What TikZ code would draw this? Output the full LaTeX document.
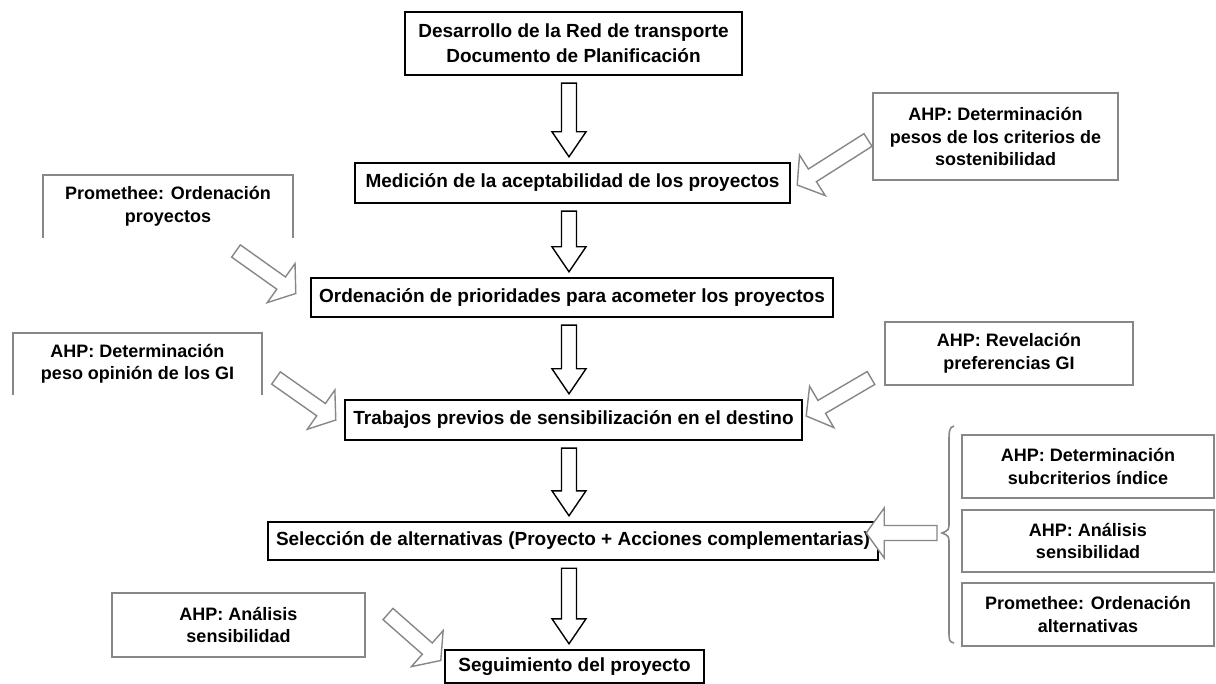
\documentclass[tikz,border=0pt]{standalone}
\usepackage{fontspec}
\setmainfont{Liberation Sans}
\usetikzlibrary{calc}
\definecolor{bgray}{RGB}{135,135,135}
\newcommand{\blockarrow}[6]{%
  \path ($(#3)!#6!(#2)$) coordinate (ba-h);
  \draw[#1] ($(#2)!#4!90:(#3)$) -- ($(ba-h)!#4!90:(#3)$) -- ($(ba-h)!#5!90:(#3)$) -- (#3)
    -- ($(ba-h)!#5!-90:(#3)$) -- ($(ba-h)!#4!-90:(#3)$) -- ($(#2)!#4!-90:(#3)$) -- cycle;
}
\begin{document}
\begin{tikzpicture}[x=1pt,y=-1pt,
  mainbox/.style={draw=black, line width=2.4pt, fill=white, inner sep=0pt, align=center,
    font=\bfseries\fontsize{19}{25}\selectfont},
  graybox/.style={draw=bgray, line width=2pt, fill=white, inner sep=0pt, align=center,
    font=\bfseries\fontsize{18}{22.5}\selectfont},
  graytext/.style={inner sep=0pt, align=center, font=\bfseries\fontsize{18}{22.5}\selectfont},
  grayedge/.style={draw=bgray, line width=2pt},
  mainarrow/.style={draw=black, line width=1.4pt, fill=white, line join=miter},
  grayarrow/.style={draw=bgray, line width=1.4pt, fill=white, line join=miter},
  bracestyle/.style={draw=bgray, line width=1.6pt}
]
\useasboundingbox (0,0) rectangle (1216,684);

% main column
\node[mainbox, minimum width=337pt, minimum height=63pt] (n1) at (573.5,43.5)
  {Desarrollo de la Red de transporte\\Documento de Planificación};
\node[mainbox, minimum width=435pt, minimum height=40pt] (n2) at (572.5,183)
  {Medición de la aceptabilidad de los proyectos};
\node[mainbox, minimum width=522pt, minimum height=39pt] (n3) at (572,297.5)
  {Ordenación de prioridades para acometer los proyectos};
\node[mainbox, minimum width=457pt, minimum height=40pt] (n4) at (573.5,420)
  {Trabajos previos de sensibilización en el destino};
\node[mainbox, minimum width=610pt, minimum height=38pt] (n5) at (573,541)
  {Selección de alternativas (Proyecto + Acciones complementarias)};
\node[mainbox, minimum width=259pt, minimum height=33pt] (n6) at (574.5,666.5)
  {Seguimiento del proyecto};

% main arrows
\coordinate (a1s) at ($(n1.south)+(-4.5,7)$);  \coordinate (a1e) at ($(n2.north)+(-3.5,-5)$);
\coordinate (a2s) at ($(n2.south)+(-3.5,7)$);  \coordinate (a2e) at ($(n3.north)+(-3,-5)$);
\coordinate (a3s) at ($(n3.south)+(-3,7)$);    \coordinate (a3e) at ($(n4.north)+(-4.5,-5)$);
\coordinate (a4s) at ($(n4.south)+(-4.5,7)$);  \coordinate (a4e) at ($(n5.north)+(-4,-5)$);
\coordinate (a5s) at ($(n5.south)+(-4,7)$);    \coordinate (a5e) at ($(n6.north)+(-5.5,-5)$);
\blockarrow{mainarrow}{a1s}{a1e}{7.5pt}{17pt}{25pt}
\blockarrow{mainarrow}{a2s}{a2e}{7.5pt}{17pt}{25pt}
\blockarrow{mainarrow}{a3s}{a3e}{7.5pt}{17pt}{25pt}
\blockarrow{mainarrow}{a4s}{a4e}{7.5pt}{17pt}{25pt}
\blockarrow{mainarrow}{a5s}{a5e}{7.5pt}{17pt}{25pt}

% side boxes
\node[graybox, minimum width=245pt, minimum height=87pt] (g1) at (995.5,136.5)
  {AHP: Determinación\\pesos de los criterios de\\sostenibilidad};
\node[graytext, minimum width=250pt, minimum height=63pt] (g2) at (168,206.5)
  {Promethee: Ordenación\\proyectos};
\draw[grayedge] (g2.south west) -- (g2.north west) -- (g2.north east) -- (g2.south east);
\node[graytext, minimum width=249pt, minimum height=62pt] (g3) at (137.5,364)
  {AHP: Determinación\\peso opinión de los GI};
\draw[grayedge] (g3.south west) -- (g3.north west) -- (g3.north east) -- (g3.south east);
\node[graybox, minimum width=248pt, minimum height=63pt] (g4) at (1009,353.5)
  {AHP: Revelación\\preferencias GI};
\node[graybox, minimum width=252pt, minimum height=63pt] (g5) at (1088,466.5)
  {AHP: Determinación\\subcriterios índice};
\node[graybox, minimum width=252pt, minimum height=62pt] (g6) at (1088,541)
  {AHP: Análisis\\sensibilidad};
\node[graybox, minimum width=252pt, minimum height=63pt] (g7) at (1088,614.5)
  {Promethee: Ordenación\\alternativas};
\node[graybox, minimum width=253pt, minimum height=64pt] (g8) at (238.5,625)
  {AHP: Análisis\\sensibilidad};

% brace
\coordinate (br) at (942,533);
\draw[bracestyle] ($(g5.north west)+(-7,-8)$) .. controls (949,427) and (949,432) .. (949,442)
  -- (949,522) .. controls (949,530) .. (br) .. controls (949,536) .. (949,544)
  -- (949,630) .. controls (949,640) and (949,642) .. ($(g7.south west)+(-7,-4)$);

% gray arrows
\coordinate (b1s) at (868,140);  \coordinate (b1e) at ($(n2.east)+(6,2)$);
\coordinate (b2s) at (236,251);  \coordinate (b2e) at ($(n3.west)+(-14,-4)$);
\coordinate (b3s) at (276,378);  \coordinate (b3e) at ($(n4.west)+(-8,0)$);
\coordinate (b4s) at (871,378);  \coordinate (b4e) at ($(n4.east)+(3,-4)$);
\coordinate (b5s) at ($(br)+(-5,0)$);  \coordinate (b5e) at ($(n5.east)+(-13,-8)$);
\coordinate (b6s) at (388,614);  \coordinate (b6e) at ($(n6.west)+(-3,-6)$);
\blockarrow{grayarrow}{b1s}{b1e}{7.5pt}{24pt}{18pt}
\blockarrow{grayarrow}{b2s}{b2e}{7.5pt}{24pt}{18pt}
\blockarrow{grayarrow}{b3s}{b3e}{7.5pt}{24pt}{18pt}
\blockarrow{grayarrow}{b4s}{b4e}{7.5pt}{24pt}{18pt}
\blockarrow{grayarrow}{b5s}{b5e}{7.5pt}{25pt}{18pt}
\blockarrow{grayarrow}{b6s}{b6e}{7.5pt}{24pt}{18pt}
\end{tikzpicture}
\end{document}
